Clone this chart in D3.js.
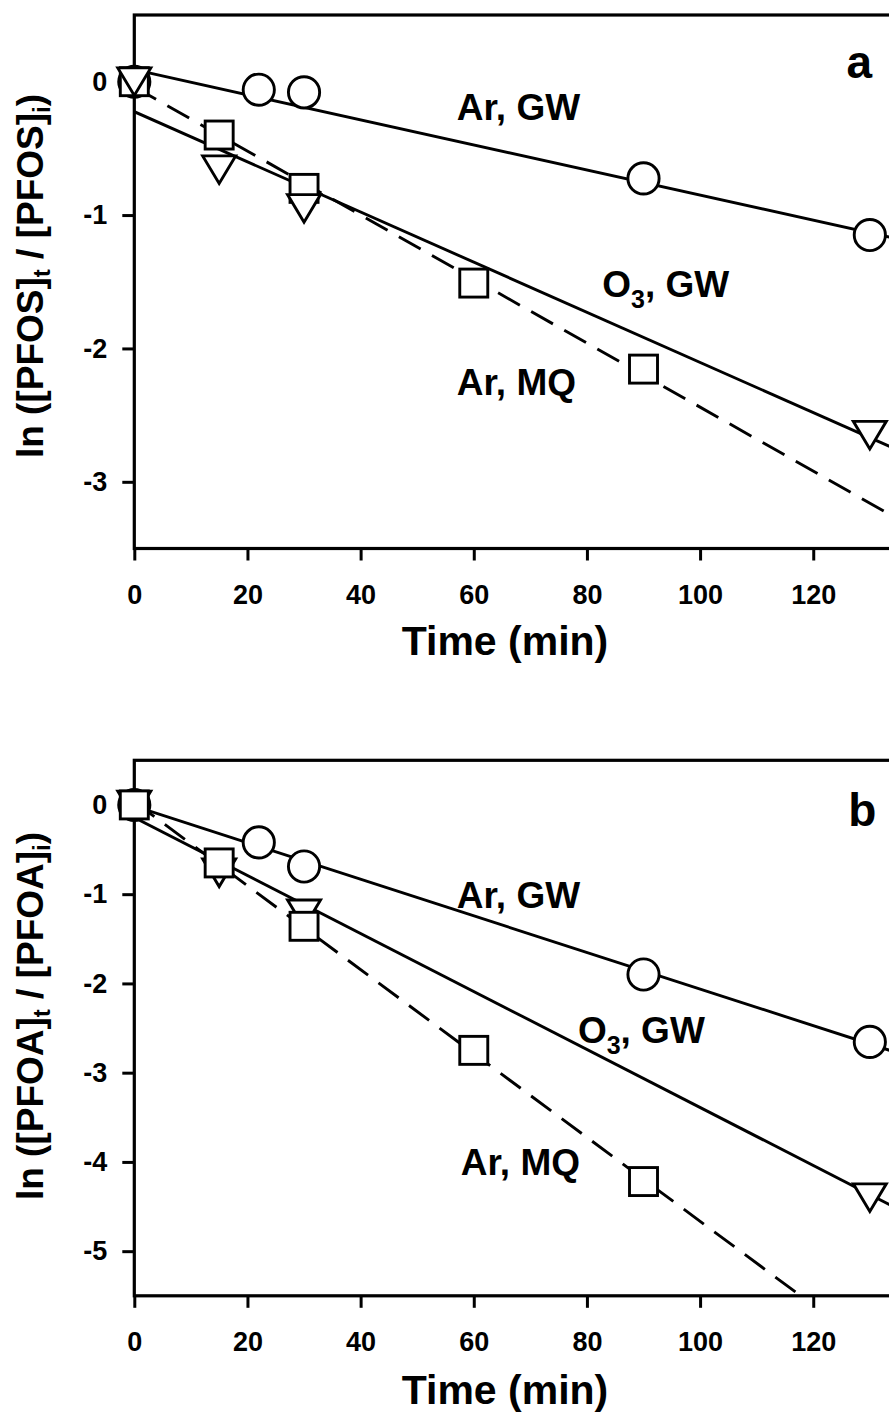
<!DOCTYPE html>
<html>
<head>
<meta charset="utf-8">
<script src="https://cdnjs.cloudflare.com/ajax/libs/d3/7.8.5/d3.min.js"></script>
<style>
  body { margin: 0; background: #fff; }
  text { font-family: "Liberation Sans", Arial, sans-serif; font-weight: bold; fill: #000; }
</style>
</head>
<body>
<div id="stage"></div>
<script>
// sampling times (min)
var timeArGW = [0, 22, 30, 90, 130];
var timeO3GW = [0, 15, 30, 130];
var timeArMQ = [0, 15, 30, 60, 90];
var xTicks = [0, 20, 40, 60, 80, 100, 120];

// panel a : PFOS
var pfosArGW = [0, -0.06, -0.08, -0.725, -1.15];
var pfosO3GW = [0, -0.66, -0.95, -2.65];
var pfosArMQ = [0, -0.40, -0.80, -1.51, -2.155];
// fitted lines [intercept, slope]
var pfosFitArGW = [0.09, -0.0094];
var pfosFitO3GW = [-0.225, -0.0188];
var pfosFitArMQ = [-0.04, -0.0240];
var pfosTicks = [0, -1, -2, -3];

// panel b : PFOA
var pfoaArGW = [0, -0.42, -0.69, -1.90, -2.655];
var pfoaO3GW = [0, -0.76, -1.22, -4.40];
var pfoaArMQ = [0, -0.65, -1.36, -2.75, -4.22];
var pfoaFitArGW = [-0.013, -0.0205];
var pfoaFitO3GW = [-0.14, -0.0325];
var pfoaFitArMQ = [0.035, -0.0470];
var pfoaTicks = [0, -1, -2, -3, -4, -5];

var W = 889, H = 1418;
var fontTick = 27, fontLabel = 37;

var svg = d3.select("#stage").append("svg")
  .attr("width", W).attr("height", H);

var x = d3.scaleLinear().domain([0, 140]).range([134.3, 926.4]);

var panels = [
  { id: "a", compound: "PFOS", top: 15, bottom: 548.5, domain: [-3.5, 0.5], ticks: pfosTicks,
    ArGW: pfosArGW, O3GW: pfosO3GW, ArMQ: pfosArMQ,
    fits: [pfosFitArGW, pfosFitO3GW, pfosFitArMQ],
    order: ["ArGW", "ArMQ", "O3GW"],
    lab: { ArGW: [57.0, -0.288], O3GW: [82.7, -1.615], ArMQ: [57.0, -2.35], letter: [125.9, 0.027] },
    yTitleY: 276, xTitleY: 655 },
  { id: "b", compound: "PFOA", top: 760.3, bottom: 1295.8, domain: [-5.5, 0.5], ticks: pfoaTicks,
    ArGW: pfoaArGW, O3GW: pfoaO3GW, ArMQ: pfoaArMQ,
    fits: [pfoaFitArGW, pfoaFitO3GW, pfoaFitArMQ],
    order: ["ArGW", "O3GW", "ArMQ"],
    lab: { ArGW: [57.0, -1.157], O3GW: [78.4, -2.67], ArMQ: [57.7, -4.15], letter: [126.2, -0.238] },
    yTitleY: 1016, xTitleY: 1404 }
];

var times = { ArGW: timeArGW, O3GW: timeO3GW, ArMQ: timeArMQ };

function marker(g, kind, cx, cy) {
  if (kind == "ArGW") {
    g.append("circle").attr("cx", cx).attr("cy", cy).attr("r", 15.6);
  } else if (kind == "ArMQ") {
    g.append("rect").attr("x", cx - 14).attr("y", cy - 14).attr("width", 28).attr("height", 28);
  } else {
    var hw = 16.5, hh = 13.8;
    g.append("path").attr("d", "M" + (cx - hw) + "," + (cy - hh) + "L" + (cx + hw) + "," + (cy - hh) + "L" + cx + "," + (cy + hh) + "Z");
  }
}

panels.forEach(function(p) {
  var y = d3.scaleLinear().domain(p.domain).range([p.bottom, p.top]);
  var g = svg.append("g");

  g.append("clipPath").attr("id", "clip" + p.id)
    .append("rect")
    .attr("x", x.range()[0]).attr("y", p.top)
    .attr("width", x.range()[1] - x.range()[0]).attr("height", p.bottom - p.top);

  // fitted lines
  var kinds = ["ArGW", "O3GW", "ArMQ"];
  var line = d3.line().x(function(d) { return x(d[0]); }).y(function(d) { return y(d[1]); });
  p.fits.forEach(function(f, i) {
    var pts = [[0, f[0]], [140, f[0] + f[1] * 140]];
    g.append("path")
      .attr("d", line(pts))
      .attr("clip-path", "url(#clip" + p.id + ")")
      .attr("fill", "none").attr("stroke", "#000").attr("stroke-width", 2.9)
      .attr("stroke-dasharray", kinds[i] == "ArMQ" ? "25,13" : null);
  });

  // frame
  g.append("rect")
    .attr("x", x.range()[0]).attr("y", p.top)
    .attr("width", x.range()[1] - x.range()[0]).attr("height", p.bottom - p.top)
    .attr("fill", "none").attr("stroke", "#000").attr("stroke-width", 3.2);

  // axes
  var gy = g.append("g").attr("transform", "translate(" + x.range()[0] + ",0)")
    .call(d3.axisLeft(y).tickValues(p.ticks).tickSize(12).tickSizeOuter(0).tickPadding(15)
      .tickFormat(function(d) { return String(d); }));
  var gx = g.append("g").attr("transform", "translate(0," + p.bottom + ")")
    .call(d3.axisBottom(x).tickValues(xTicks).tickSize(12).tickSizeOuter(0).tickPadding(24)
      .tickFormat(function(d) { return String(d); }));
  [gy, gx].forEach(function(ax) {
    ax.select(".domain").remove();
    ax.selectAll(".tick line").attr("stroke", "#000").attr("stroke-width", 3);
    ax.selectAll(".tick text").attr("font-size", fontTick)
      .attr("font-family", "'Liberation Sans', Arial, sans-serif").attr("font-weight", "bold");
  });

  // markers
  p.order.forEach(function(k) {
    var mg = g.append("g").attr("fill", "#fff").attr("stroke", "#000").attr("stroke-width", 2.9);
    p[k].forEach(function(v, i) {
      marker(mg, k, x(times[k][i]), y(v));
    });
  });

  // series labels
  function lab(pos, parts) {
    var t = g.append("text").attr("x", x(pos[0])).attr("y", y(pos[1])).attr("font-size", fontLabel);
    parts(t);
  }
  lab(p.lab.ArGW, function(t) { t.text("Ar, GW"); });
  lab(p.lab.ArMQ, function(t) { t.text("Ar, MQ"); });
  lab(p.lab.O3GW, function(t) {
    t.append("tspan").text("O");
    t.append("tspan").attr("font-size", 25).attr("dy", 11).text("3");
    t.append("tspan").attr("dy", -11).text(", GW");
  });
  g.append("text").attr("x", x(p.lab.letter[0])).attr("y", y(p.lab.letter[1]))
    .attr("font-size", 46).text(p.id);

  // axis titles
  var yt = g.append("text")
    .attr("transform", "translate(43," + p.yTitleY + ") rotate(-90)")
    .attr("text-anchor", "middle").attr("font-size", fontLabel);
  yt.append("tspan").text("ln ([" + p.compound + "]");
  yt.append("tspan").attr("font-size", 24).attr("dy", 7).text("t");
  yt.append("tspan").attr("dy", -7).text(" / [" + p.compound + "]");
  yt.append("tspan").attr("font-size", 24).attr("dy", 7).text("i");
  yt.append("tspan").attr("dy", -7).text(")");

  g.append("text").attr("x", 505).attr("y", p.xTitleY)
    .attr("text-anchor", "middle").attr("font-size", 41).text("Time (min)");
});
</script>
</body>
</html>
